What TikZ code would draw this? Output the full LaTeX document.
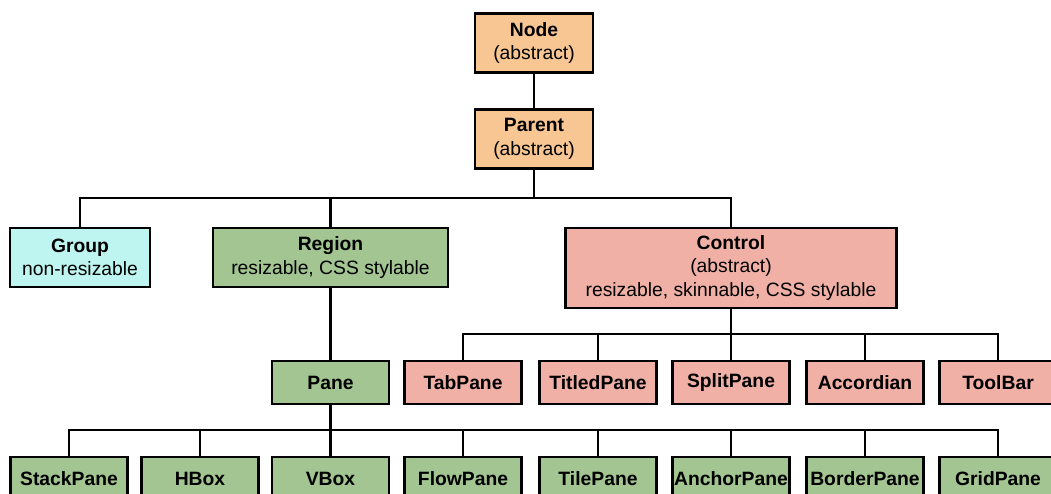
\documentclass[tikz,border=0pt]{standalone}
\usepackage{fontspec}
\setmainfont{Liberation Sans}
\definecolor{cOrange}{RGB}{248,198,146}
\definecolor{cCyan}{RGB}{190,245,240}
\definecolor{cGreen}{RGB}{162,197,145}
\definecolor{cPink}{RGB}{240,176,165}
\begin{document}
\begin{tikzpicture}[x=1pt,y=-1pt,
  box/.style={draw=black, line width=2.8pt, rectangle, inner sep=0pt, align=center,
    font=\fontsize{19.3}{23.5}\selectfont},
  small/.style={box, minimum width=117pt, minimum height=43pt, font=\fontsize{19.3}{23.5}\selectfont\bfseries},
  orangebox/.style={box, fill=cOrange, minimum width=118pt, minimum height=59pt},
  link/.style={draw=black, line width=2.8pt, line join=miter}
]
\useasboundingbox (0,0) rectangle (1051,494);
% top
\node[orangebox] (node) at (534,43) {\textbf{Node}\\(abstract)};
\node[orangebox] (parent) at (534,139) {\textbf{Parent}\\(abstract)};
% level 2
\node[box, fill=cCyan, minimum width=140pt, minimum height=59pt] (group) at (80,257.5) {\textbf{Group}\\non-resizable};
\node[box, fill=cGreen, minimum width=235pt, minimum height=59pt] (region) at (330.5,257.5) {\textbf{Region}\\resizable, CSS stylable};
\node[box, fill=cPink, minimum width=331pt, minimum height=80pt] (control) at (731,268) {\textbf{Control}\\(abstract)\\resizable, skinnable, CSS stylable};
% level 3
\node[small, fill=cGreen] (pane) at (330.5,382.5) {Pane};
\node[small, fill=cPink] (tabpane) at (463,382.5) {TabPane};
\node[small, fill=cPink] (titledpane) at (598,382.5) {TitledPane};
\node[small, fill=cPink] (splitpane) at (731,382.5) {SplitPane};
\node[small, fill=cPink] (accordian) at (865,382.5) {Accordian};
\node[small, fill=cPink] (toolbar) at (998,382.5) {ToolBar};
% level 4
\node[small, fill=cGreen, minimum height=44pt] (stackpane) at (69,479) {StackPane};
\node[small, fill=cGreen, minimum height=44pt] (hbox) at (200,479) {HBox};
\node[small, fill=cGreen, minimum height=44pt] (vbox) at (330.5,479) {VBox};
\node[small, fill=cGreen, minimum height=44pt] (flowpane) at (463,479) {FlowPane};
\node[small, fill=cGreen, minimum height=44pt] (tilepane) at (598,479) {TilePane};
\node[small, fill=cGreen, minimum height=44pt] (anchorpane) at (731,479) {AnchorPane};
\node[small, fill=cGreen, minimum height=44pt] (borderpane) at (865,479) {BorderPane};
\node[small, fill=cGreen, minimum height=44pt] (gridpane) at (998,479) {GridPane};
% bars
\coordinate (barA) at (0,198);
\coordinate (barB) at (0,334);
\coordinate (barC) at (0,430);
% connectors
\draw[link] (node.south) -- (parent.north);
\foreach \c in {group,region,control}
  \draw[link] (parent.south) -- (parent.south |- barA) -| (\c.north);
\draw[link] (region.south) -- (pane.north);
\foreach \c in {tabpane,titledpane,splitpane,accordian,toolbar}
  \draw[link] (control.south) -- (control.south |- barB) -| (\c.north);
\foreach \c in {stackpane,hbox,vbox,flowpane,tilepane,anchorpane,borderpane,gridpane}
  \draw[link] (pane.south) -- (pane.south |- barC) -| (\c.north);
\end{tikzpicture}
\end{document}
